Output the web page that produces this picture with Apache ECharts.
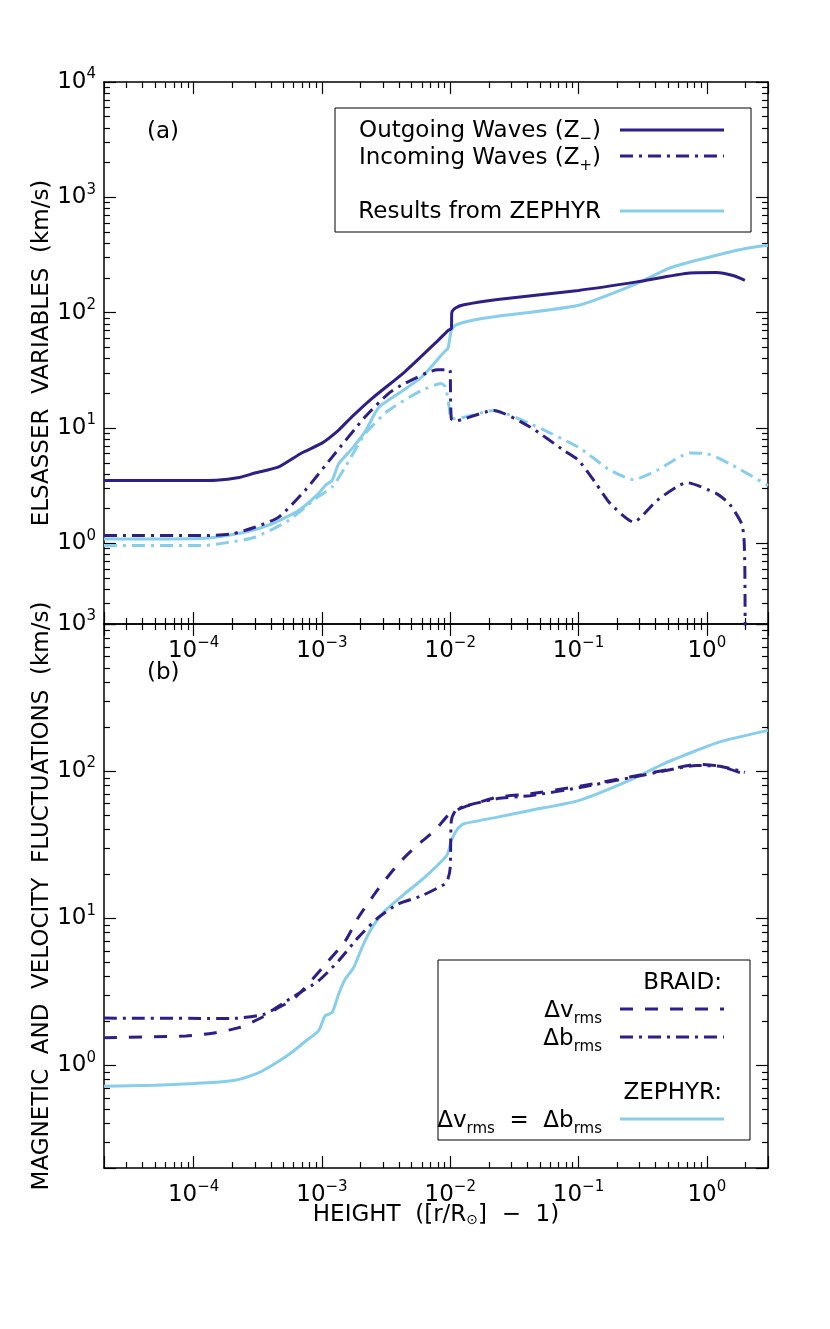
<!DOCTYPE html>
<html>
<head>
<meta charset="utf-8">
<script src="https://cdn.jsdelivr.net/npm/echarts@6/dist/echarts.min.js"></script>
<style>
  html, body { margin: 0; padding: 0; background: #fff; }
  #chart { width: 830px; height: 1329px; }
</style>
</head>
<body>
<div id="chart"></div>
<script>
// panel (a): Elsasser variables, km/s
const zMinusX = [2e-5, 1e-4, 1.5e-4, 2.2e-4, 3e-4, 4.6e-4, 7e-4, 1e-3, 1.35e-3, 1.71e-3, 2.46e-3, 4.4e-3, 8.05e-3, 9.6e-3, 1.02e-2, 1.03e-2, 1.1e-2, 1.28e-2, 2.34e-2, 0.1, 0.285, 0.74, 1.19, 1.6, 1.98]
const zMinusY = [3.5, 3.5, 3.52, 3.7, 4.07, 4.6, 6.1, 7.4, 9.6, 12.5, 18.1, 30.6, 57.6, 70, 73, 101, 110, 117, 130, 156, 185, 221, 223, 210, 191]

const zPlusX = [2e-5, 1.24e-4, 2e-4, 3e-4, 4.6e-4, 7.4e-4, 1.2e-3, 2.17e-3, 3.3e-3, 4.4e-3, 8e-3, 9.9e-3, 1.0e-2, 1.02e-2, 1.1e-2, 1.28e-2, 2.18e-2, 4.2e-2, 7.67e-2, 0.1, 0.137, 0.177, 0.269, 0.41, 0.7, 1.19, 1.51, 1.87, 1.95, 1.98, 2.0]
const zPlusY = [1.17, 1.17, 1.21, 1.38, 1.69, 2.88, 5.6, 12.5, 19.9, 24.3, 32, 32, 31, 12, 11.5, 12, 14.2, 10.2, 6.4, 5.25, 3.3, 2.21, 1.53, 2.36, 3.36, 2.7, 2.18, 1.48, 1.1, 0.6, 0.05]

const zephOutX = [2e-5, 1.24e-4, 2.5e-4, 4.1e-4, 6.6e-4, 9.4e-4, 1.06e-3, 1.2e-3, 1.35e-3, 1.71e-3, 2.17e-3, 2.76e-3, 3.94e-3, 6e-3, 9.1e-3, 9.6e-3, 1.02e-2, 1.1e-2, 1.5e-2, 2.34e-2, 0.1, 0.285, 0.5, 0.74, 1.19, 2, 3]
const zephOutY = [1.09, 1.11, 1.25, 1.48, 1.93, 2.7, 3.17, 3.52, 4.9, 6.6, 9.3, 15, 19.9, 27.7, 46.5, 49, 70, 78, 86, 93, 116, 179, 241, 275, 315, 360, 384]

const zephInX = [2e-5, 1.24e-4, 1.67e-4, 3e-4, 5.5e-4, 9e-4, 1.2e-3, 1.52e-3, 2.17e-3, 3.3e-3, 6e-3, 8.5e-3, 9.2e-3, 9.8e-3, 1.02e-2, 1.28e-2, 2.18e-2, 4.2e-2, 0.1, 0.177, 0.269, 0.41, 0.74, 1.0, 1.51, 3]
const zephInY = [0.96, 0.96, 1.0, 1.13, 1.58, 2.46, 3.08, 4.6, 8.9, 14.2, 21.2, 24.3, 22.7, 15.2, 12, 12.4, 14.2, 10.9, 6.8, 4.3, 3.57, 4.3, 6.07, 6.0, 4.9, 3.18]

// panel (b): fluctuation amplitudes, km/s
const dvX = [2e-5, 8.7e-5, 1.4e-4, 2.25e-4, 3.4e-4, 4.6e-4, 5.8e-4, 7.4e-4, 1.12e-3, 1.52e-3, 1.92e-3, 2.75e-3, 3.94e-3, 5.3e-3, 7.6e-3, 9.9e-3, 1.28e-2, 2.34e-2, 4.2e-2, 0.1, 0.25, 0.46, 0.83, 1.26, 1.98]
const dvY = [1.54, 1.58, 1.65, 1.8, 2.11, 2.47, 2.75, 3.38, 5.1, 7.0, 10.1, 15.8, 23.4, 30.3, 39.5, 51.3, 56.9, 66.5, 70, 78.7, 91, 101, 111, 108, 95]

const dbX = [2e-5, 2e-4, 3.6e-4, 5.85e-4, 9.4e-4, 1.35e-3, 1.92e-3, 2.75e-3, 3.94e-3, 6e-3, 9.1e-3, 9.6e-3, 1.0e-2, 1.02e-2, 1.1e-2, 1.28e-2, 2.34e-2, 4.2e-2, 0.1, 0.25, 0.46, 0.83, 1.26, 1.98]
const dbY = [2.09, 2.08, 2.23, 2.89, 3.75, 5.13, 7.4, 10.1, 12.5, 14.2, 17.1, 18.5, 22, 46, 54, 57.5, 65, 68, 77, 90, 100, 109, 108, 98]

const zephRmsX = [2e-5, 5e-5, 1e-4, 1.5e-4, 2.1e-4, 2.7e-4, 3.4e-4, 4.5e-4, 5.8e-4, 7.4e-4, 9.4e-4, 1.06e-3, 1.2e-3, 1.35e-3, 1.52e-3, 1.77e-3, 2.05e-3, 2.46e-3, 3.1e-3, 4.4e-3, 6.35e-3, 9.4e-3, 1.02e-2, 1.14e-2, 1.28e-2, 2.34e-2, 4.2e-2, 0.1, 0.25, 0.46, 0.83, 1.26, 3]
const zephRmsY = [0.72, 0.73, 0.75, 0.765, 0.79, 0.84, 0.91, 1.05, 1.22, 1.45, 1.71, 2.17, 2.28, 3.05, 3.85, 4.62, 6.3, 8.65, 11.2, 14.6, 19, 26.7, 33.7, 40.5, 43.8, 48.6, 54, 63, 86.5, 112, 138, 158, 189]

const xMin = 2e-5
const xMax = 3
const yMinA = 0.2
const yMaxA = 1e4
const yMinB = 0.2
const yMaxB = 1e3

const NAVY = '#2e1f87'
const SKY = '#87ceeb'
const FONT = 'DejaVu Sans'
const DASHDOT = [13, 6, 3, 6]
const DASHED = [13, 12]

const chart = echarts.init(document.getElementById('chart'))

function pairs (xs, ys) {
  return xs.map((x, i) => [x, ys[i]])
}

// 10^n label, blank for anything that is not a power of ten
function powLabel (v) {
  const e = Math.log10(v)
  const r = Math.round(e)
  if (Math.abs(e - r) > 1e-6) return ''
  return '{b|10}{s|' + (r < 0 ? '\u2212' + (-r) : String(r)) + '}'
}

const labelRich = {
  b: { fontSize: 23, fontFamily: FONT, color: '#000', lineHeight: 30 },
  s: { fontSize: 15, fontFamily: FONT, color: '#000', lineHeight: 12, verticalAlign: 'top' }
}

function logAxis (opts) {
  return Object.assign({
    type: 'log',
    logBase: 10,
    axisLine: { show: true, onZero: false, lineStyle: { color: '#000', width: 1.5 } },
    axisTick: { show: true, inside: true, length: 12, lineStyle: { color: '#000', width: 1.2 } },
    minorTick: { show: true, splitNumber: 9, length: 6, lineStyle: { color: '#000', width: 1.2 } },
    splitLine: { show: false },
    minorSplitLine: { show: false },
    axisLabel: { show: false }
  }, opts)
}

const xLabel = { show: true, margin: 12, formatter: powLabel, rich: labelRich, showMinLabel: true, showMaxLabel: true }
const yLabel = { show: true, margin: 8, formatter: powLabel, rich: labelRich, showMinLabel: true, showMaxLabel: true }

function line (name, xs, ys, xi, yi, color, dash) {
  return {
    name: name,
    type: 'line',
    xAxisIndex: xi,
    yAxisIndex: yi,
    data: pairs(xs, ys),
    showSymbol: false,
    symbol: 'none',
    smooth: 0.2,
    clip: true,
    lineStyle: { color: color, width: 3, type: dash || 'solid' },
    z: color === NAVY ? 3 : 2
  }
}

// legend text with a lowered index
const subRich = { sub: { font: '15px "DejaVu Sans"', fill: '#000', verticalAlign: 'bottom', lineHeight: 8 } }
function legendText (x, y, text) {
  return {
    type: 'text', x: x, y: y, z: 11,
    style: {
      text: '{m|' + text + '}', align: 'right', verticalAlign: 'middle', fill: '#000',
      font: '23px "DejaVu Sans"',
      rich: Object.assign({ m: { font: '23px "DejaVu Sans"', fill: '#000', lineHeight: 32 } }, subRich)
    }
  }
}
function legendLine (y, color, dash) {
  return { type: 'line', z: 11, shape: { x1: 620, y1: y, x2: 724, y2: y }, style: { stroke: color, lineWidth: 3, lineDash: dash || null } }
}

const option = {
  backgroundColor: '#fff',
  animation: false,
  grid: [
    { left: 104, right: 62, top: 82, height: 542 },
    { left: 104, right: 62, top: 624, height: 544 }
  ],
  xAxis: [
    logAxis({ gridIndex: 0, position: 'bottom', min: xMin, max: xMax, axisLabel: xLabel }),
    logAxis({ gridIndex: 0, position: 'top', min: xMin, max: xMax }),
    logAxis({
      gridIndex: 1, position: 'bottom', min: xMin, max: xMax, axisLabel: xLabel,
      name: 'HEIGHT  ([r/R{sun|\u2299}]  \u2212  1)',
      nameLocation: 'middle',
      nameGap: 36,
      nameMoveOverlap: false,
      nameTextStyle: {
        fontSize: 23, fontFamily: FONT, color: '#000',
        rich: { sun: { fontSize: 14, fontFamily: FONT, color: '#000', verticalAlign: 'bottom', lineHeight: 12 } }
      }
    }),
    logAxis({ gridIndex: 1, position: 'top', min: xMin, max: xMax })
  ],
  yAxis: [
    logAxis({
      gridIndex: 0, position: 'left', min: yMinA, max: yMaxA, axisLabel: yLabel,
      name: 'ELSASSER  VARIABLES  (km/s)',
      nameLocation: 'middle',
      nameRotate: 90,
      nameGap: 50,
      nameMoveOverlap: false,
      nameTextStyle: { fontSize: 23, fontFamily: FONT, color: '#000' }
    }),
    logAxis({ gridIndex: 0, position: 'right', min: yMinA, max: yMaxA }),
    logAxis({
      gridIndex: 1, position: 'left', min: yMinB, max: yMaxB, axisLabel: yLabel,
      name: 'MAGNETIC  AND  VELOCITY  FLUCTUATIONS  (km/s)',
      nameLocation: 'middle',
      nameRotate: 90,
      nameGap: 50,
      nameMoveOverlap: false,
      nameTextStyle: { fontSize: 23, fontFamily: FONT, color: '#000' }
    }),
    logAxis({ gridIndex: 1, position: 'right', min: yMinB, max: yMaxB })
  ],
  series: [
    line('Results from ZEPHYR', zephOutX, zephOutY, 0, 0, SKY),
    line('ZEPHYR incoming', zephInX, zephInY, 0, 0, SKY, DASHDOT),
    line('Outgoing Waves', zMinusX, zMinusY, 0, 0, NAVY),
    line('Incoming Waves', zPlusX, zPlusY, 0, 0, NAVY, DASHDOT),
    line('ZEPHYR rms', zephRmsX, zephRmsY, 2, 2, SKY),
    line('dv rms', dvX, dvY, 2, 2, NAVY, DASHED),
    line('db rms', dbX, dbY, 2, 2, NAVY, DASHDOT)
  ],
  graphic: [
    // panel tags
    { type: 'text', left: 147, top: 121, style: { text: '(a)', font: '23px "DejaVu Sans"', fill: '#000' } },
    { type: 'text', left: 147, top: 662, style: { text: '(b)', font: '23px "DejaVu Sans"', fill: '#000' } },
    // legend (a)
    { type: 'rect', shape: { x: 335, y: 108, width: 416, height: 124 }, style: { fill: '#fff', stroke: '#000', lineWidth: 1 }, z: 10 },
    legendText(601, 131, 'Outgoing Waves (Z}{sub|\u2212}{m|)'),
    legendText(601, 158, 'Incoming Waves (Z}{sub|+}{m|)'),
    legendText(601, 212, 'Results from ZEPHYR'),
    legendLine(130, NAVY),
    legendLine(156, NAVY, DASHDOT),
    legendLine(211, SKY),
    // legend (b)
    { type: 'rect', shape: { x: 438, y: 960, width: 312, height: 180 }, style: { fill: '#fff', stroke: '#000', lineWidth: 1 }, z: 10 },
    legendText(722, 983, 'BRAID:'),
    legendText(602, 1011, '\u0394v}{sub|rms}{m|'),
    legendText(602, 1039, '\u0394b}{sub|rms}{m|'),
    legendText(722, 1093, 'ZEPHYR:'),
    legendText(602, 1121, '\u0394v}{sub|rms}{m|  =  \u0394b}{sub|rms}{m|'),
    legendLine(1009, NAVY, DASHED),
    legendLine(1037, NAVY, DASHDOT),
    legendLine(1119, SKY)
  ]
}

chart.setOption(option)
</script>
</body>
</html>
